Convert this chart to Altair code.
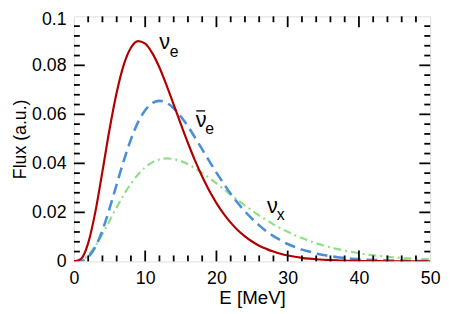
import altair as alt
import pandas as pd

# Energy grid (MeV)
energy = list(range(0, 51))

# nu_e (solid, dark red)
flux_nue = [0.0, 0.00105, 0.00745, 0.0201, 0.0367, 0.0539, 0.0689, 0.0803, 0.0872, 0.0899,
            0.0889, 0.0850, 0.0791, 0.0718, 0.0640, 0.0560, 0.0483, 0.0411, 0.0346, 0.0288,
            0.0238, 0.0195, 0.0158, 0.0127, 0.0102, 0.0081, 0.0064, 0.0051, 0.0040, 0.0031,
            0.0024, 0.00188, 0.00145, 0.00112, 0.00086, 0.00066, 0.00050, 0.00038, 0.00029, 0.00022,
            0.00017, 0.00013, 0.00010, 0.00007, 0.00005, 0.00004, 0.00003, 0.00002, 0.00002, 0.00001,
            0.00001]

# anti nu_e (dashed, blue)
flux_anue = [0.0, 0.00017, 0.00172, 0.00584, 0.01269, 0.02159, 0.03145, 0.04116, 0.0498, 0.0568,
             0.0617, 0.0646, 0.0655, 0.0647, 0.0625, 0.0591, 0.0551, 0.0505, 0.0457, 0.0409,
             0.0362, 0.0318, 0.0276, 0.0238, 0.0204, 0.0174, 0.0147, 0.0123, 0.0103, 0.0086,
             0.0071, 0.0059, 0.0048, 0.0040, 0.0032, 0.0026, 0.0021, 0.0017, 0.0014, 0.0011,
             0.0009, 0.00072, 0.00057, 0.00046, 0.00036, 0.00029, 0.00023, 0.00018, 0.00014, 0.00011,
             0.00009]

# nu_x (dash-dot, light green)
flux_nux = [0.0, 0.00049, 0.00259, 0.00629, 0.01113, 0.01655, 0.02204, 0.02719, 0.03173, 0.03548,
            0.03838, 0.04040, 0.04158, 0.0420, 0.04175, 0.04093, 0.03964, 0.0380, 0.0361, 0.0340,
            0.0318, 0.0295, 0.0272, 0.0250, 0.0228, 0.0207, 0.0187, 0.0169, 0.0151, 0.0135,
            0.0121, 0.0107, 0.0095, 0.0084, 0.0074, 0.0065, 0.0057, 0.0050, 0.0044, 0.0038,
            0.0033, 0.0029, 0.0025, 0.0022, 0.0019, 0.0016, 0.0014, 0.0012, 0.0011, 0.0009,
            0.0008]

# axis ticks
x_major = [0, 10, 20, 30, 40, 50]
x_minor = [v for v in range(0, 51, 2) if v % 10 != 0]
y_major = [0, 0.02, 0.04, 0.06, 0.08, 0.1]
y_minor = [round(i * 0.004, 3) for i in range(26) if i % 5 != 0]

# annotations
nu_E = [12.73, 17.86, 27.86]
nu_F = [0.0894, 0.0578, 0.0226]
sub_E = [14.05, 19.06, 29.0]
sub_F = [0.0855, 0.0541, 0.0189]
sub_text = ["e", "e", "x"]
bar_E = [17.17]
bar_E2 = [18.41]
bar_F = [0.0614]

W, H = 362, 249
FONT = "Liberation Sans"

df = pd.DataFrame({
    "E": energy * 3,
    "F": flux_nue + flux_anue + flux_nux,
    "s": ["nue"] * 51 + ["anue"] * 51 + ["nux"] * 51,
})

xs = alt.Scale(domain=[0, 50], nice=False, zero=False)
ys = alt.Scale(domain=[0, 0.1], nice=False, zero=False)

xaxis = alt.Axis(values=x_major, grid=False, ticks=False, tickSize=0, domain=False,
                 labelPadding=8, labelFontSize=18, titleFontSize=19,
                 labelFont=FONT, titleFont=FONT, titleFontWeight="normal",
                 labelColor="black", titleColor="black", titlePadding=2,
                 labelFlush=False)
yaxis = alt.Axis(values=y_major, format="~g", grid=False, ticks=False, tickSize=0,
                 domain=False, labelPadding=8, labelFontSize=18, titleFontSize=18,
                 labelFont=FONT, titleFont=FONT, titleFontWeight="normal",
                 labelColor="black", titleColor="black", titlePadding=2,
                 labelFlush=False,
                 labelOffset={"condition": {"test": "datum.value >= 0.099", "value": 3}, "value": 0})
XT = "E [MeV]"
YT = "Flux (a.u.)"


def X(field):
    return alt.X(field, type="quantitative", scale=xs, axis=xaxis, title=XT)


def Y(field):
    return alt.Y(field, type="quantitative", scale=ys, axis=yaxis, title=YT)


base = alt.Chart(df)


def line(name, color, dash, width):
    kw = dict(color=color, strokeWidth=width, interpolate="monotone", clip=True)
    if dash:
        kw["strokeDash"] = dash
    return base.transform_filter(alt.datum.s == name).mark_line(**kw).encode(x=X("E"), y=Y("F"))


def xticks(vals, length, top):
    d = pd.DataFrame({"v": vals})
    y1 = 0 if top else H
    y2 = length if top else H - length
    return alt.Chart(d).mark_rule(color="black", strokeWidth=1.8).encode(
        x=X("v"), y=alt.value(y1), y2=alt.value(y2))


def yticks(vals, length, right):
    d = pd.DataFrame({"v": vals})
    x1 = W if right else 0
    x2 = W - length if right else length
    return alt.Chart(d).mark_rule(color="black", strokeWidth=1.8).encode(
        y=Y("v"), x=alt.value(x1), x2=alt.value(x2))


ticks = [
    xticks(x_major[1:-1], 11, False), xticks(x_minor, 6, False),
    xticks(x_major[1:-1], 11, True), xticks(x_minor, 6, True),
    yticks(y_major[1:-1], 11, False), yticks(y_minor, 6, False),
    yticks(y_major[1:-1], 11, True), yticks(y_minor, 6, True),
]

nu_lbl = alt.Chart(pd.DataFrame({"E": nu_E, "F": nu_F})).mark_text(
    text="ν", fontSize=22, font=FONT, color="black", align="center", baseline="middle"
).encode(x=X("E"), y=Y("F"))

sub_lbl = alt.Chart(pd.DataFrame({"E": sub_E, "F": sub_F, "t": sub_text})).mark_text(
    fontSize=16, font=FONT, color="black", align="center", baseline="middle"
).encode(x=X("E"), y=Y("F"), text="t:N")

bar_lbl = alt.Chart(pd.DataFrame({"E": bar_E, "E2": bar_E2, "F": bar_F})).mark_rule(
    color="black", strokeWidth=1.3
).encode(x=X("E"), x2="E2:Q", y=Y("F"))

chart = alt.layer(
    line("nux", "#8fdf86", [8, 4, 2, 4], 2.2),
    line("anue", "#4a8fd6", [11, 6], 2.6),
    line("nue", "#b00000", None, 2.2),
    *ticks,
    nu_lbl, sub_lbl, bar_lbl,
).properties(
    width=W, height=H,
    autosize=alt.AutoSizeParams(type="none"),
    padding={"left": 67, "top": 6, "right": 12, "bottom": 50},
).configure_view(stroke="black", strokeWidth=2).configure(background="white")

chart.save("out.html", embed_options={"renderer": "svg", "actions": False})
